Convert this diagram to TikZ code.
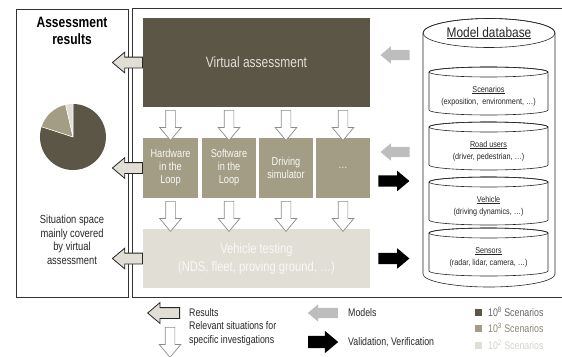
\documentclass[tikz,border=0pt]{standalone}
\usepackage{fontspec}
\setmainfont{Liberation Sans}[FakeStretch=0.8]
\newfontfamily\dbfont{Liberation Sans}[FakeStretch=0.85]
\usetikzlibrary{shapes.arrows,calc}
\definecolor{vdark}{HTML}{5B5646}
\definecolor{vmid}{HTML}{A29D84}
\definecolor{vlight}{HTML}{E1DED6}
\definecolor{arrgrey}{HTML}{BDBDBD}
\newcommand\dbcyl[6]{%
  \pgfmathsetmacro\dbrx{(#2-#1)/2}%
  \filldraw[fill=white, draw=black!85, line width=0.6pt]
    (#1,#3) -- (#1,#4) arc[start angle=180,end angle=360,x radius=\dbrx pt,y radius=#6pt]
    -- (#2,#3) arc[start angle=0,end angle=180,x radius=\dbrx pt,y radius=#5pt] -- cycle;
  \draw[draw=black!85, line width=0.6pt] (#1+\dbrx,#3) ellipse[x radius=\dbrx pt,y radius=#5pt];
}
\begin{document}
\begin{tikzpicture}[x=1pt,y=-1pt,
  panel/.style={draw=black!80, line width=0.9pt},
  box/.style={rectangle, inner sep=0pt, align=center},
  vabox/.style={box, fill=vdark, text=vlight, minimum width=227pt, minimum height=89pt,
    font=\fontsize{15}{17}\selectfont},
  rowbox/.style={box, fill=vmid, text=white!93!vmid, minimum height=60pt,
    font=\fontsize{11.5}{13}\selectfont},
  vtbox/.style={box, fill=vlight, text=white!80!vlight, minimum width=227pt, minimum height=59pt,
    font=\fontsize{14}{18}\selectfont},
  arrbase/.style={single arrow, minimum width=0pt, single arrow tip angle=80},
  resarr/.style={arrbase, shape border rotate=180, draw=black!85, fill=vlight, line width=0.8pt,
    minimum height=30pt, inner sep=5pt, single arrow head extend=5pt},
  downarr/.style={arrbase, shape border rotate=270, draw=black!45, fill=white, line width=0.7pt,
    minimum height=30pt, inner sep=4.5pt, single arrow head extend=6pt},
  modarr/.style={arrbase, shape border rotate=180, fill=arrgrey,
    minimum height=29pt, inner sep=5pt, single arrow head extend=3.5pt},
  valarr/.style={arrbase, fill=black,
    minimum height=31pt, inner sep=5.5pt, single arrow head extend=4.5pt},
  lbl/.style={inner sep=0pt, text=black!85, font=\fontsize{11}{14}\selectfont},
  dbtext/.style={inner sep=0pt, align=center, text=black!85, font=\dbfont\fontsize{8.5}{12}\selectfont},
  sq/.style={rectangle, inner sep=0pt, minimum size=7pt},
]
\useasboundingbox (0,0) rectangle (562,356);

% panels
\draw[panel] (16,9) rectangle (128,297);
\draw[panel] (563,8) -- (132,8) -- (132,297) -- (563,297);

% left panel content
\node[inner sep=0pt, align=center, font=\bfseries\fontsize{15}{17.5}\selectfont] (res) at (72,31)
  {Assessment\\results};
\coordinate (pc) at (73,137);
\fill[vdark] (pc) -- ++(162:33pt) arc[start angle=162,end angle=450,radius=33pt] -- cycle;
\fill[vmid] (pc) -- ++(103:33pt) arc[start angle=103,end angle=162,radius=33pt] -- cycle;
\fill[vlight] (pc) -- ++(90:33pt) arc[start angle=90,end angle=103,radius=33pt] -- cycle;
\draw[white, line width=0.6pt] (pc) -- ++(162:33pt) (pc) -- ++(103:33pt) (pc) -- ++(90:33pt);
\node[inner sep=0pt, align=center, text=black!85, font=\fontsize{11.7}{13.5}\selectfont] (sit) at (72,240)
  {Situation space\\mainly covered\\by virtual\\assessment};

% main boxes
\node[vabox] (va) at (256.5,62.5) {Virtual assessment};
\node[rowbox, minimum width=55pt] (hil) at (170.5,168) {Hardware\\in the\\Loop};
\node[rowbox, minimum width=54pt] (sil) at (229,168) {Software\\in the\\Loop};
\node[rowbox, minimum width=54pt] (ds) at (286,168) {Driving\\simulator};
\node[rowbox, minimum width=54pt] (dots) at (343,168) {…};
\node[vtbox] (vt) at (256.5,258.5) {Vehicle testing\\(NDS, fleet, proving ground, …)};

% down arrows
\foreach \b in {hil,sil,ds,dots}{
  \node[downarr] (d1\b) at ($(va.south -| \b.north)!0.5!(\b.north)$) {};
  \node[downarr] (d2\b) at ($(\b.south)!0.5!(vt.north -| \b.south)$) {};
}

% result arrows
\node[resarr, anchor=tail] (r1) at (va.west) {};
\node[resarr, anchor=tail] (r2) at (hil.west) {};
\node[resarr, anchor=tail] (r3) at (vt.west) {};

% model / validation arrows
\node[modarr, anchor=tip] (m1) at ([xshift=10pt,yshift=7.5pt]va.east) {};
\node[modarr, anchor=tip] (m2) at ([xshift=10pt,yshift=16pt]dots.east) {};
\node[valarr, anchor=tail] (v1) at ([xshift=8pt,yshift=-13pt]dots.east) {};
\node[valarr, anchor=tail] (v2) at ([xshift=8pt]vt.east) {};

% database
\dbcyl{423}{555}{33}{274}{14.5}{13}
\node[inner sep=0pt, text=black!85, font=\dbfont\fontsize{14}{16}\selectfont] (mdb) at (489,33) {\underline{Model database}};
\dbcyl{429}{548}{72}{110}{5}{5}
\dbcyl{429}{548}{127}{165}{5}{5}
\dbcyl{429}{548}{182}{220}{5}{5}
\dbcyl{429}{548}{233}{271}{5}{5}
\node[dbtext] (scen) at (488.5,96) {\underline{Scenarios}\\(exposition,\ \ environment, …)};
\node[dbtext] (road) at (488.5,151) {\underline{Road users}\\(driver, pedestrian, …)};
\node[dbtext] (veh) at (488.5,206) {\underline{Vehicle}\\(driving dynamics, …)};
\node[dbtext] (sens) at (488.5,257) {\underline{Sensors}\\(radar, lidar, camera, …)};

% legend
\node[resarr, anchor=tail, minimum height=32pt] (lr) at (180,313) {};
\node[lbl, anchor=west] (lrt) at (189,313) {Results};
\node[downarr, anchor=tail] (ld) at (170,327) {};
\node[lbl, anchor=west, align=left] (ldt) at (189,334) {Relevant situations for\\specific investigations};
\node[modarr, anchor=tail, minimum height=30pt] (lm) at (338,313) {};
\node[lbl, anchor=west] (lmt) at (348,313) {Models};
\node[valarr, anchor=tail, minimum height=30pt, inner sep=6pt, single arrow head extend=5pt] (lv) at (308,342) {};
\node[lbl, anchor=west] (lvt) at (348,342) {Validation, Verification};
\node[sq, fill=vdark] (s1) at (478,312) {};
\node[sq, fill=vmid] (s2) at (478,328) {};
\node[sq, fill=vlight] (s3) at (478,345) {};
\node[lbl, anchor=west, text=black!60] (s1t) at (488,312) {10\textsuperscript{8} Scenarios};
\node[lbl, anchor=west, text=vmid!85!black] (s2t) at (488,328) {10\textsuperscript{3} Scenarios};
\node[lbl, anchor=west, text=vlight!95!black] (s3t) at (488,345) {10\textsuperscript{2} Scenarios};
\end{tikzpicture}
\end{document}
